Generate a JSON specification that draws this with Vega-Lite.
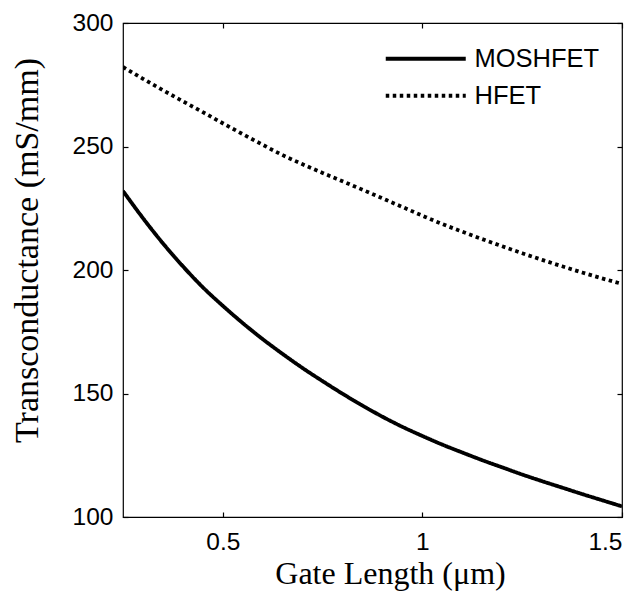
{
  "$schema": "https://vega.github.io/schema/vega-lite/v6.json",
  "width": 499,
  "height": 494,
  "autosize": "none",
  "padding": {"left": 123, "top": 23, "right": 21, "bottom": 84},
  "background": "white",
  "config": {
    "view": {"stroke": "black", "strokeWidth": 1.2},
    "axis": {
      "grid": false,
      "domain": false,
      "offset": -5,
      "ticks": true,
      "zindex": 1,
      "tickColor": "black",
      "tickOpacity": 1,
      "tickWidth": 1.2,
      "tickSize": 5,
      "labelFont": "Liberation Sans",
      "labelFontSize": 24.5,
      "labelColor": "black",
      "titleFont": "Liberation Serif",
      "titleFontWeight": "normal",
      "titleColor": "black"
    }
  },
  "data": {
    "values": [
      {"gate": 0.25, "device": "MOSHFET", "gm": 232},
      {"gate": 0.30, "device": "MOSHFET", "gm": 221},
      {"gate": 0.35, "device": "MOSHFET", "gm": 210.8},
      {"gate": 0.40, "device": "MOSHFET", "gm": 201.5},
      {"gate": 0.45, "device": "MOSHFET", "gm": 193},
      {"gate": 0.50, "device": "MOSHFET", "gm": 185.5},
      {"gate": 0.55, "device": "MOSHFET", "gm": 178.5},
      {"gate": 0.60, "device": "MOSHFET", "gm": 172},
      {"gate": 0.65, "device": "MOSHFET", "gm": 166},
      {"gate": 0.70, "device": "MOSHFET", "gm": 160.3},
      {"gate": 0.75, "device": "MOSHFET", "gm": 155},
      {"gate": 0.80, "device": "MOSHFET", "gm": 149.9},
      {"gate": 0.85, "device": "MOSHFET", "gm": 145.1},
      {"gate": 0.90, "device": "MOSHFET", "gm": 140.6},
      {"gate": 0.95, "device": "MOSHFET", "gm": 136.5},
      {"gate": 1.00, "device": "MOSHFET", "gm": 132.8},
      {"gate": 1.05, "device": "MOSHFET", "gm": 129.3},
      {"gate": 1.10, "device": "MOSHFET", "gm": 126.1},
      {"gate": 1.15, "device": "MOSHFET", "gm": 123},
      {"gate": 1.20, "device": "MOSHFET", "gm": 120.1},
      {"gate": 1.25, "device": "MOSHFET", "gm": 117.2},
      {"gate": 1.30, "device": "MOSHFET", "gm": 114.5},
      {"gate": 1.35, "device": "MOSHFET", "gm": 111.9},
      {"gate": 1.40, "device": "MOSHFET", "gm": 109.3},
      {"gate": 1.45, "device": "MOSHFET", "gm": 106.8},
      {"gate": 1.50, "device": "MOSHFET", "gm": 104.3},
      {"gate": 0.25, "device": "HFET", "gm": 282.2},
      {"gate": 0.30, "device": "HFET", "gm": 277.4},
      {"gate": 0.35, "device": "HFET", "gm": 272.8},
      {"gate": 0.40, "device": "HFET", "gm": 268.3},
      {"gate": 0.45, "device": "HFET", "gm": 263.9},
      {"gate": 0.50, "device": "HFET", "gm": 259.4},
      {"gate": 0.55, "device": "HFET", "gm": 255},
      {"gate": 0.60, "device": "HFET", "gm": 250.7},
      {"gate": 0.65, "device": "HFET", "gm": 246.5},
      {"gate": 0.70, "device": "HFET", "gm": 242.8},
      {"gate": 0.75, "device": "HFET", "gm": 239.3},
      {"gate": 0.80, "device": "HFET", "gm": 235.9},
      {"gate": 0.85, "device": "HFET", "gm": 232.5},
      {"gate": 0.90, "device": "HFET", "gm": 229},
      {"gate": 0.95, "device": "HFET", "gm": 225.5},
      {"gate": 1.00, "device": "HFET", "gm": 222},
      {"gate": 1.05, "device": "HFET", "gm": 218.6},
      {"gate": 1.10, "device": "HFET", "gm": 215.5},
      {"gate": 1.15, "device": "HFET", "gm": 212.5},
      {"gate": 1.20, "device": "HFET", "gm": 209.6},
      {"gate": 1.25, "device": "HFET", "gm": 206.8},
      {"gate": 1.30, "device": "HFET", "gm": 204.1},
      {"gate": 1.35, "device": "HFET", "gm": 201.5},
      {"gate": 1.40, "device": "HFET", "gm": 199},
      {"gate": 1.45, "device": "HFET", "gm": 196.6},
      {"gate": 1.50, "device": "HFET", "gm": 194.4}
    ]
  },
  "layer": [
    {
      "mark": {"type": "line", "strokeWidth": 3.8, "strokeCap": "butt", "interpolate": "monotone", "color": "black", "clip": true},
      "encoding": {
        "x": {
          "field": "gate", "type": "quantitative",
          "scale": {"domain": [0.25, 1.5], "nice": false, "zero": false},
          "axis": {
            "orient": "bottom", "values": [0.5, 1, 1.5], "format": "~g", "labelPadding": 13,
            "title": "Gate Length (μm)", "titleFontSize": 32,
            "titleX": 267, "titleY": 71, "titleBaseline": "alphabetic", "titleAlign": "center"
          }
        },
        "y": {
          "field": "gm", "type": "quantitative",
          "scale": {"domain": [100, 300], "nice": false, "zero": false},
          "axis": {
            "orient": "left", "values": [100, 150, 200, 250, 300], "labelPadding": 10,
            "title": "Transconductance (mS/mm)", "titleFontSize": 34,
            "titleX": -91, "titleY": 227, "titleAngle": -90, "titleBaseline": "alphabetic", "titleAlign": "center"
          }
        },
        "strokeDash": {
          "field": "device", "type": "nominal",
          "scale": {"domain": ["MOSHFET", "HFET"], "range": [[1, 0], [3.5, 3.5]]},
          "legend": {
            "title": null,
            "orient": "none",
            "legendX": 290,
            "legendY": 23,
            "padding": 0,
            "symbolType": "M-4,0H4",
            "symbolSize": 400,
            "symbolStrokeWidth": 3.8,
            "symbolStrokeColor": "black",
            "labelFont": "Liberation Sans",
            "labelFontSize": 25.5,
            "labelColor": "black",
            "labelOffset": 36,
            "rowPadding": 10
          }
        }
      }
    },
    {
      "mark": {"type": "point", "opacity": 0},
      "encoding": {
        "x": {
          "field": "gate", "type": "quantitative",
          "axis": {"orient": "top", "values": [0.5, 1, 1.5], "labels": false, "title": null}
        },
        "y": {
          "field": "gm", "type": "quantitative",
          "axis": {"orient": "right", "values": [100, 150, 200, 250, 300], "labels": false, "title": null}
        }
      }
    }
  ],
  "resolve": {"axis": {"x": "independent", "y": "independent"}}
}
